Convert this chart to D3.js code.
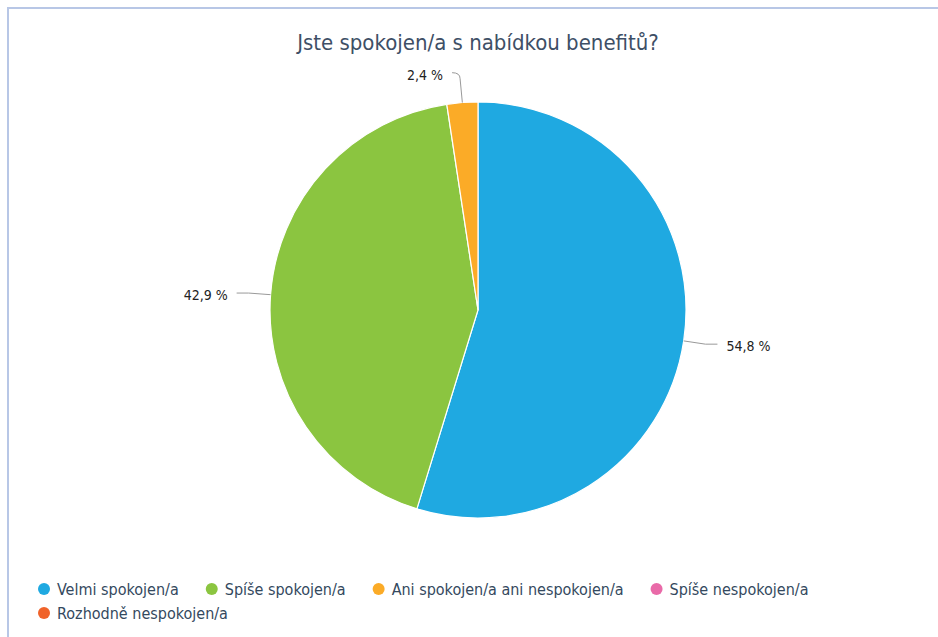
<!DOCTYPE html>
<html>
<head>
<meta charset="utf-8">
<script src="https://cdn.jsdelivr.net/npm/d3@7"></script>
<style>
  body { margin: 0; background: #fff; }
  svg { display: block; font-family: "DejaVu Sans Condensed", "DejaVu Sans", sans-serif; font-stretch: condensed; }
</style>
</head>
<body>
<script>
// chart data
let categories = ['Velmi spokojen/a', 'Spíše spokojen/a', 'Ani spokojen/a ani nespokojen/a', 'Spíše nespokojen/a', 'Rozhodně nespokojen/a']
let values = [54.8, 42.9, 2.4, 0, 0]
let colors = ['#1fa9e1', '#8bc540', '#fbab27', '#e96aa8', '#f0632a']
let title = 'Jste spokojen/a s nabídkou benefitů?'

function main(){
    let width = 938
    let height = 637
    let cx = 478, cy = 310, radius = 208

    let svg = d3.select('body').append('svg')
        .attr('width', width)
        .attr('height', height)

    // frame lines at top and left
    svg.append('path')
        .attr('d', 'M8,' + height + ' L8,8 L' + width + ',8')
        .attr('fill', 'none')
        .attr('stroke', '#b8c7e6')
        .attr('stroke-width', 2)

    svg.append('text')
        .attr('x', cx)
        .attr('y', 50)
        .attr('text-anchor', 'middle')
        .attr('font-size', 22)
        .attr('fill', '#3e4f66')
        .text(title)

    let data = categories.map((c, i) => ({name: c, value: values[i], color: colors[i]}))

    let pie = d3.pie().sort(null).value(d => d.value)
    let arcs = pie(data)
    let arc = d3.arc().innerRadius(0).outerRadius(radius)

    let g = svg.append('g').attr('transform', 'translate(' + cx + ',' + cy + ')')

    g.selectAll('path.slice')
        .data(arcs.filter(d => d.value > 0))
        .enter()
        .append('path')
        .attr('class', 'slice')
        .attr('d', arc)
        .attr('fill', d => d.data.color)
        .attr('stroke', '#fff')
        .attr('stroke-width', 1.2)

    // data labels with connectors
    let labelled = arcs.filter(d => d.value > 0)
    labelled.forEach(d => {
        let a = (d.startAngle + d.endAngle) / 2
        let sx = Math.sin(a), sy = -Math.cos(a)
        let top = Math.abs(sx) < 0.2
        let p0 = [sx * radius, sy * radius]
        let ext = top ? 30 : 22
        let p1 = [sx * (radius + ext), sy * (radius + ext)]
        let side = (sx >= 0 && !top) ? 1 : -1
        let p2 = [p1[0] + side * (top ? 8 : 12), p1[1]]
        let path = d3.path()
        path.moveTo(p0[0], p0[1])
        if (top) {
            path.lineTo(p1[0], p1[1] + 6)
            path.quadraticCurveTo(p1[0], p1[1], p2[0], p1[1])
        } else {
            path.lineTo(p1[0], p1[1])
            path.lineTo(p2[0], p2[1])
        }
        g.append('path')
            .attr('d', path.toString())
            .attr('fill', 'none')
            .attr('stroke', '#999')
            .attr('stroke-width', 1)

        g.append('text')
            .attr('x', p2[0] + side * 9)
            .attr('y', p2[1] + (top ? 2 : 2))
            .attr('dy', '0.35em')
            .attr('text-anchor', side > 0 ? 'start' : 'end')
            .attr('font-size', 14)
            .attr('fill', '#222')
            .text(d3.format('.1f')(d.value).replace('.', ',') + ' %')
    })

    // legend
    let legend = svg.append('g')
    let lx = 44, ly = 589, rowH = 24, gap = 33, maxX = 900
    data.forEach(d => {
        let item = legend.append('g')
        item.append('circle')
            .attr('r', 6)
            .attr('fill', d.color)
        let t = item.append('text')
            .attr('x', 13)
            .attr('dy', '0.35em')
            .attr('font-size', 16)
            .attr('fill', '#34495e')
            .text(d.name)
        let w = 13 + t.node().getComputedTextLength()
        if (lx + w > maxX) { lx = 44; ly += rowH }
        item.attr('transform', 'translate(' + lx + ',' + ly + ')')
        lx += w + gap
    })
}

main()
</script>
</body>
</html>
